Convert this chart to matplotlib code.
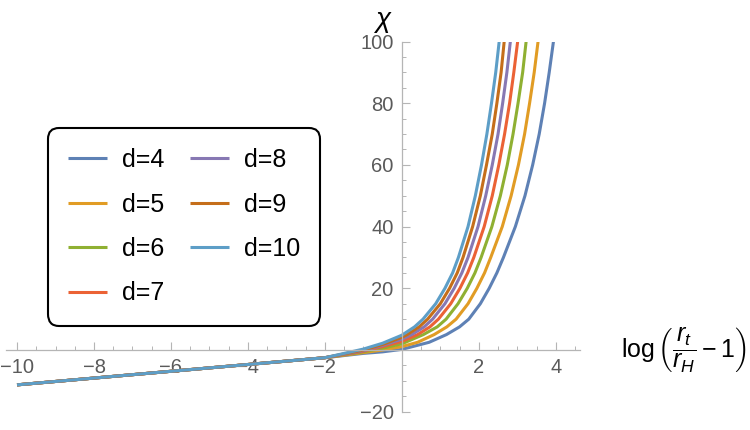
import matplotlib
matplotlib.use("Agg")
import matplotlib.pyplot as plt
from matplotlib.ticker import MultipleLocator, FixedLocator

plt.rcParams['font.family'] = ['Liberation Sans', 'DejaVu Sans']
plt.rcParams['mathtext.fontset'] = 'custom'
plt.rcParams['mathtext.rm'] = 'Liberation Sans'
plt.rcParams['mathtext.it'] = 'Liberation Sans:italic'

# values
dims = [4, 5, 6, 7, 8, 9, 10]
labels = ['d=%d' % d for d in dims]
colors = ['#5E81B5', '#E19C24', '#8FB032', '#EB6235', '#8778B3', '#C56E1A', '#5D9EC7']

# common tail (all curves overlap for x < -2)
x_tail = [-10, -8, -6, -4, -3, -2]
chi_tail = [-11.3, -9.1, -6.9, -4.7, -3.6, -2.5]

# chi at x = -1, -0.5, 0 (one row per d)
x_near0 = [-1, -0.5, 0]
chi_d4_near0 = [-1.1, -0.6, 0.2]
chi_d5_near0 = [-0.85, 0.0, 1.1]
chi_d6_near0 = [-0.6, 0.6, 2.0]
chi_d7_near0 = [-0.4, 1.1, 2.8]
chi_d8_near0 = [-0.2, 1.5, 3.5]
chi_d9_near0 = [0.0, 1.8, 4.1]
chi_d10_near0 = [0.3, 2.2, 4.8]

# low part of the rise: (x, chi) read where the curves leave the axis
low_d4 = ([0.71, 1.16], [2.5, 5])
low_d5 = ([0.41, 0.84], [2.5, 5])
low_d6 = ([0.56], [5])
low_d7 = ([0.41], [5])
low_d8 = ([0.26], [5])
low_d9 = ([0.14], [5])
low_d10 = ([], [])

# x position where each curve crosses these chi levels
chi_levels = [7.5, 10, 15, 20, 25, 30, 40, 50, 60, 70, 80, 90, 100]
x_d4 = [1.50, 1.74, 2.04, 2.27, 2.47, 2.64, 2.95, 3.20, 3.40, 3.57, 3.71, 3.83, 3.94]
x_d5 = [1.17, 1.41, 1.72, 1.95, 2.15, 2.31, 2.61, 2.84, 3.03, 3.19, 3.32, 3.44, 3.54]
x_d6 = [0.92, 1.15, 1.46, 1.70, 1.90, 2.06, 2.34, 2.56, 2.74, 2.89, 3.02, 3.14, 3.23]
x_d7 = [0.73, 0.95, 1.27, 1.51, 1.71, 1.87, 2.14, 2.35, 2.52, 2.67, 2.80, 2.91, 3.01]
x_d8 = [0.58, 0.80, 1.12, 1.36, 1.56, 1.72, 1.98, 2.18, 2.35, 2.50, 2.62, 2.73, 2.82]
x_d9 = [0.45, 0.67, 1.00, 1.24, 1.44, 1.59, 1.84, 2.04, 2.20, 2.35, 2.47, 2.58, 2.66]
x_d10 = [0.33, 0.55, 0.88, 1.12, 1.32, 1.47, 1.72, 1.91, 2.07, 2.21, 2.33, 2.44, 2.53]

near0 = [chi_d4_near0, chi_d5_near0, chi_d6_near0, chi_d7_near0,
         chi_d8_near0, chi_d9_near0, chi_d10_near0]
lows = [low_d4, low_d5, low_d6, low_d7, low_d8, low_d9, low_d10]
rises = [x_d4, x_d5, x_d6, x_d7, x_d8, x_d9, x_d10]

fig = plt.figure(figsize=(7.5, 4.3), dpi=100)
ax = fig.add_axes([5.5/750, (430-411.7)/430, 574.5/750, 370.2/430])

for i in range(len(dims)):
    xs = x_tail + x_near0 + lows[i][0] + rises[i]
    ys = chi_tail + near0[i] + lows[i][1] + chi_levels
    ax.plot(xs, ys, color=colors[i], lw=2.2, label=labels[i],
            solid_joinstyle='round', solid_capstyle='butt')

ax.set_xlim(-10.3, 4.63)
ax.set_ylim(-20, 100)

# axes through the origin, Mathematica style
for s in ['top', 'right']:
    ax.spines[s].set_visible(False)
ax.spines['left'].set_position(('data', 0))
ax.spines['bottom'].set_position(('data', 0))
for s in ['left', 'bottom']:
    ax.spines[s].set_color('#b5b5b5')
    ax.spines[s].set_linewidth(0.9)

ax.xaxis.set_major_locator(FixedLocator([-10, -8, -6, -4, -2, 2, 4]))
ax.yaxis.set_major_locator(FixedLocator([-20, 20, 40, 60, 80, 100]))
ax.xaxis.set_minor_locator(MultipleLocator(0.5))
ax.yaxis.set_minor_locator(MultipleLocator(5))
ax.tick_params(which='major', direction='in', length=6, width=0.8,
               color='#b5b5b5', labelcolor='#5a5a5a', labelsize=14.5)
ax.tick_params(which='minor', direction='in', length=3, width=0.7, color='#b5b5b5')
ax.tick_params(axis='x', pad=6)
ax.tick_params(axis='y', pad=6)

fig.text(383/750, 1-20/430, '\u03c7', style='italic', fontsize=20,
         ha='center', va='center')
fig.text(621/750, 1-350/430, r'$\log\left(\dfrac{r_t}{r_H}-1\right)$',
         fontsize=18, ha='left', va='center')

leg = ax.legend(ncol=2, loc='upper left', bbox_to_anchor=(48/750, 1-128/430),
                bbox_transform=fig.transFigure, borderaxespad=0, fontsize=18,
                handlelength=1.55, handletextpad=0.6, columnspacing=1.05,
                labelspacing=0.82, borderpad=0.8, fancybox=True, framealpha=1)
leg.get_frame().set_edgecolor('black')
leg.get_frame().set_linewidth(1.5)
leg.get_frame().set_boxstyle('round,pad=0,rounding_size=0.45')

fig.savefig('out.png', dpi=100)
